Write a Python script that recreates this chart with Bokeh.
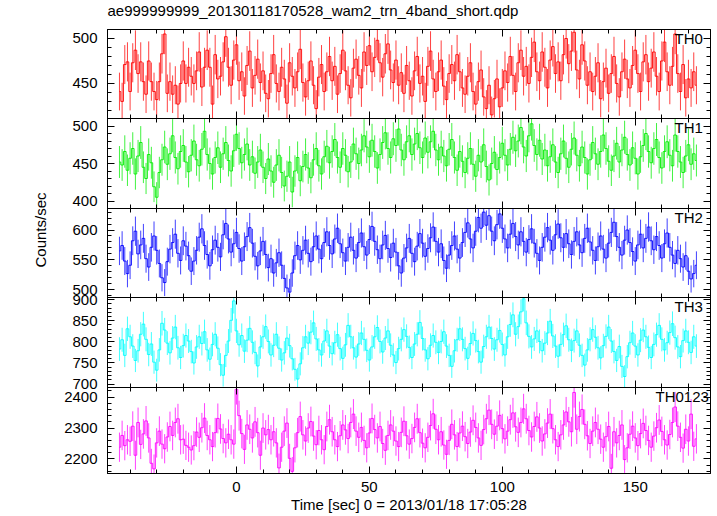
import numpy as np
from bokeh.plotting import figure
from bokeh.layouts import column
from bokeh.models import LinearAxis, SingleIntervalTicker, Range1d, Label, ColumnDataSource, Title
from bokeh.embed import file_html
from bokeh.resources import INLINE

TITLE = "ae999999999_20130118170528_wam2_trn_4band_short.qdp"
XLABEL = "Time [sec] 0 = 2013/01/18 17:05:28"
YLABEL = "Counts/sec"

# 1-s bins, time relative to 2013/01/18 17:05:28
t_first, t_last, bin_size = -44, 173, 1.0
x_limits = (-48.5, 178.3)

th0 = [441, 430, 471, 474, 441, 473, 487, 461, 474, 452,
       438, 475, 452, 441, 432, 452, 483, 505, 439, 452,
       438, 448, 427, 450, 475, 450, 468, 458, 450, 464,
       485, 446, 468, 487, 468, 427, 482, 455, 458, 474,
       502, 468, 448, 476, 493, 453, 463, 436, 470, 486,
       445, 459, 477, 451, 464, 439, 433, 461, 482, 450,
       441, 468, 455, 428, 473, 458, 445, 463, 488, 451,
       435, 453, 475, 448, 422, 457, 471, 441, 463, 480,
       453, 469, 438, 461, 487, 464, 448, 434, 467, 477,
       459, 445, 485, 470, 492, 463, 479, 498, 473, 457,
       483, 494, 465, 451, 476, 448, 462, 439, 470, 453,
       436, 464, 480, 450, 458, 430, 469, 486, 455, 441,
       463, 476, 447, 432, 461, 471, 453, 482, 463, 445,
       438, 458, 473, 441, 427, 452, 465, 435, 422, 448,
       415, 433, 455, 424, 445, 464, 451, 480, 459, 441,
       473, 487, 458, 469, 450, 479, 496, 463, 453, 485,
       468, 445, 476, 491, 461, 474, 453, 482, 500, 472,
       486, 507, 465, 455, 493, 475, 448, 463, 441, 458,
       473, 433, 452, 467, 439, 461, 480, 450, 435, 463,
       477, 455, 445, 470, 487, 461, 441, 474, 482, 452,
       467, 485, 458, 441, 475, 496, 463, 448, 469, 505,
       461, 441, 471, 434, 455, 445, 463, 448]

th1 = [452, 448, 466, 441, 457, 470, 436, 460, 478, 445,
       430, 462, 451, 419, 405, 438, 455, 472, 449, 463,
       487, 458, 443, 466, 474, 452, 439, 461, 480, 455,
       447, 469, 493, 462, 450, 436, 458, 471, 445, 463,
       478, 454, 440, 467, 489, 470, 451, 462, 476, 448,
       459, 437, 452, 468, 445, 430, 456, 440, 425, 448,
       461, 438, 420, 433, 452, 412, 440, 458, 427, 446,
       462, 444, 431, 455, 470, 447, 436, 459, 473, 451,
       466, 482, 458, 445, 470, 461, 439, 452, 476, 463,
       450, 468, 487, 472, 459, 481, 466, 444, 462, 478,
       491, 470, 458, 483, 474, 496, 468, 455, 479, 487,
       462, 476, 490, 471, 458, 484, 465, 479, 493, 468,
       455, 472, 460, 447, 469, 482, 458, 441, 466, 453,
       438, 457, 470, 449, 433, 461, 452, 475, 446, 428,
       450, 465, 442, 458, 477, 461, 448, 469, 485, 467,
       480, 498, 472, 460, 487, 503, 474, 462, 481, 456,
       468, 447, 459, 475, 452, 438, 463, 480, 457, 445,
       469, 484, 461, 447, 472, 458, 436, 455, 478, 463,
       449, 466, 488, 470, 453, 441, 460, 477, 452, 468,
       485, 462, 448, 471, 457, 436, 459, 474, 490, 466,
       451, 470, 482, 458, 444, 466, 479, 461, 447, 488,
       466, 452, 438, 460, 475, 449, 463, 454]

th2 = [565, 574, 548, 527, 541, 582, 598, 560, 575, 586,
       552, 538, 571, 590, 566, 544, 520, 512, 547, 568,
       579, 593, 561, 549, 582, 573, 557, 531, 548, 566,
       588, 602, 574, 559, 540, 567, 583, 571, 555, 592,
       611, 585, 563, 577, 596, 569, 548, 572, 589, 604,
       578, 556, 540, 565, 581, 559, 537, 552, 528, 545,
       562, 541, 519, 503, 496, 528, 557, 574, 550, 566,
       583, 561, 547, 572, 590, 568, 552, 579, 597, 574,
       560, 585, 603, 577, 562, 548, 571, 588, 566, 553,
       579, 595, 572, 558, 584, 606, 581, 567, 552, 575,
       591, 569, 554, 578, 563, 540, 528, 553, 570, 586,
       561, 547, 573, 594, 578, 556, 569, 587, 605, 581,
       563, 577, 549, 536, 558, 574, 590, 568, 553, 579,
       596, 612, 585, 570, 598, 621, 603, 630, 608, 624,
       598, 582, 609, 627, 603, 585, 570, 593, 611, 589,
       575, 597, 581, 563, 584, 602, 578, 561, 549, 571,
       588, 604, 583, 566, 592, 610, 587, 571, 594, 577,
       559, 581, 597, 575, 562, 586, 603, 580, 566, 549,
       572, 590, 568, 553, 578, 596, 613, 589, 571, 558,
       583, 600, 579, 564, 548, 575, 593, 570, 586, 605,
       582, 567, 589, 574, 553, 577, 595, 571, 558, 544,
       566, 552, 538, 557, 531, 518, 527, 541]

th3 = [783, 805, 768, 831, 812, 790, 756, 779, 818, 842,
       806, 770, 795, 752, 733, 781, 844, 828, 797, 774,
       809, 835, 786, 763, 791, 815, 802, 777, 750, 788,
       812, 796, 824, 781, 759, 794, 818, 785, 746, 721,
       768, 802, 851, 897, 826, 793, 815, 778, 804, 832,
       799, 775, 743, 788, 812, 836, 801, 769, 792, 818,
       785, 757, 774, 809, 791, 760, 735, 712, 748, 786,
       812, 797, 823, 845, 807, 781, 769, 802, 826, 790,
       772, 798, 817, 784, 761, 793, 839, 812, 786, 764,
       795, 821, 806, 780, 757, 788, 812, 834, 801, 776,
       809, 826, 792, 769, 751, 784, 806, 829, 813, 787,
       763, 795, 818, 846, 808, 781, 760, 792, 815, 799,
       775, 801, 824, 790, 768, 742, 779, 805, 831, 806,
       784, 761, 796, 820, 803, 777, 752, 789, 812, 835,
       808, 783, 805, 827, 794, 769, 812, 841, 864, 818,
       836, 871, 902, 845, 813, 788, 807, 826, 801, 779,
       797, 821, 849, 814, 790, 766, 794, 817, 838, 805,
       780, 803, 826, 792, 768, 745, 781, 806, 829, 811,
       786, 762, 791, 813, 835, 802, 777, 756, 789, 742,
       718, 765, 798, 821, 790, 769, 804, 828, 812, 787,
       763, 794, 817, 839, 806, 781, 798, 822, 843, 810,
       788, 765, 803, 826, 799, 775, 812, 790]

th0123 = [2238, 2276, 2243, 2262, 2257, 2306, 2212, 2318, 2247, 2281,
          2323, 2268, 2186, 2168, 2252, 2290, 2248, 2233, 2271, 2305,
          2276, 2318, 2330, 2262, 2264, 2244, 2238, 2229, 2243, 2287,
          2270, 2301, 2332, 2276, 2262, 2240, 2285, 2331, 2297, 2266,
          2252, 2280, 2262, 2248, 2425, 2340, 2282, 2231, 2310, 2296,
          2268, 2320, 2285, 2212, 2300, 2278, 2295, 2262, 2288, 2252,
          2171, 2238, 2290, 2316, 2202, 2160, 2236, 2285, 2337, 2278,
          2258, 2300, 2321, 2274, 2246, 2292, 2262, 2230, 2305, 2327,
          2288, 2262, 2240, 2275, 2310, 2294, 2266, 2318, 2345, 2290,
          2270, 2302, 2260, 2236, 2284, 2331, 2295, 2268, 2305, 2250,
          2228, 2276, 2310, 2290, 2258, 2240, 2286, 2322, 2275, 2248,
          2266, 2302, 2330, 2285, 2251, 2236, 2270, 2308, 2346, 2296,
          2262, 2288, 2245, 2215, 2260, 2312, 2278, 2240, 2284, 2306,
          2272, 2250, 2287, 2325, 2302, 2268, 2244, 2295, 2330, 2358,
          2312, 2280, 2306, 2341, 2298, 2265, 2290, 2327, 2349, 2304,
          2286, 2318, 2362, 2330, 2292, 2271, 2305, 2336, 2300, 2258,
          2281, 2316, 2345, 2298, 2262, 2240, 2278, 2310, 2352, 2320,
          2288, 2415, 2296, 2337, 2360, 2312, 2275, 2250, 2290, 2318,
          2296, 2264, 2238, 2272, 2305, 2170, 2288, 2252, 2276, 2310,
          2198, 2236, 2280, 2306, 2268, 2243, 2282, 2315, 2292, 2260,
          2238, 2274, 2301, 2326, 2289, 2262, 2245, 2279, 2318, 2368,
          2306, 2270, 2235, 2296, 2258, 2345, 2241, 2265]

band_names = ["TH0", "TH1", "TH2", "TH3", "TH0123"]
band_rates = [th0, th1, th2, th3, th0123]
band_colors = ["#ff0000", "#00ee00", "#0000ff", "#00ffff", "#ff00ff"]
y_limits = [(411, 510), (390, 510), (487, 636), (692, 905), (2153, 2431)]
y_major = [50, 50, 50, 50, 100]

time = np.arange(t_first, t_last + bin_size, bin_size)

FONT = "Liberation Sans"
FS = "15px"
FRAME_L, FRAME_W, FIG_W = 107, 603, 715
frame_h = [89, 90, 89, 90, 89]
label_dx = [-36, -36, -36, -36, -55]
PAD = 10          # overlapping border between stacked panels
TOP_B, TOP_SHIFT, BOT_B = 45, 16, 39   # first panel: frame top lands at TOP_B - TOP_SHIFT
YLAB_PANEL = 2
YLAB_PAD = 28     # extra canvas above the panel holding the y label

xr = Range1d(*x_limits)


def add_axis(p, side, ticker, labels, axis_label=None):
    ax = LinearAxis(ticker=ticker,
                    major_tick_in=7, major_tick_out=0,
                    minor_tick_in=4, minor_tick_out=0,
                    axis_line_color="black", major_tick_line_color="black",
                    minor_tick_line_color="black")
    if labels:
        ax.major_label_text_font = FONT
        ax.major_label_text_font_size = FS
        ax.major_label_text_color = "black"
        ax.major_label_standoff = 10 if side == "left" else 8
    else:
        ax.major_label_text_color = None
        ax.major_label_standoff = 0
    if axis_label:
        ax.axis_label = axis_label
        ax.axis_label_text_font = FONT
        ax.axis_label_text_font_size = FS
        ax.axis_label_text_font_style = "normal"
        ax.axis_label_text_color = "black"
        ax.axis_label_standoff = 1
    p.add_layout(ax, side)


figs = []
n = len(band_names)
for i in range(n):
    rate = np.array(band_rates[i], dtype=float)
    err = np.sqrt(rate * bin_size) / bin_size
    src = ColumnDataSource(dict(t=time, rate=rate, lo=rate - err, hi=rate + err))
    if i == 0:
        bt = TOP_B
        top_margin = -TOP_SHIFT
    else:
        bt = YLAB_PAD if i == YLAB_PANEL else PAD
        top_margin = -(PAD + bt)
    bb = BOT_B if i == n - 1 else PAD
    p = figure(width=FIG_W, height=frame_h[i] + bt + bb,
               x_range=xr, y_range=Range1d(*y_limits[i]),
               x_axis_type=None, y_axis_type=None,
               output_backend="svg", toolbar_location=None,
               min_border_left=FRAME_L, min_border_right=FIG_W - FRAME_L - FRAME_W,
               min_border_top=bt, min_border_bottom=bb,
               margin=(top_margin, 0, 0, 0))
    p.outline_line_color = "black"
    p.outline_line_width = 1
    p.background_fill_color = None
    p.border_fill_color = None

    xt = SingleIntervalTicker(interval=50, num_minor_ticks=5)
    yt = SingleIntervalTicker(interval=y_major[i], num_minor_ticks=5)
    add_axis(p, "below", xt, labels=(i == n - 1), axis_label=XLABEL if i == n - 1 else None)
    add_axis(p, "above", xt, labels=False)
    add_axis(p, "left", yt, labels=True)
    add_axis(p, "right", yt, labels=False)

    if i == YLAB_PANEL:
        p.add_layout(Title(text=YLABEL, align="left", offset=30, standoff=42,
                           text_font=FONT, text_font_size=FS, text_font_style="normal",
                           text_color="black"), "left")

    col = band_colors[i]
    p.segment(x0="t", y0="lo", x1="t", y1="hi", source=src,
              line_color=col, line_width=1, line_alpha=0.75)
    p.step(x="t", y="rate", source=src, mode="center",
           line_color=col, line_width=1, line_alpha=0.9)

    p.add_layout(Label(x=x_limits[1], y=y_limits[i][1], x_offset=label_dx[i], y_offset=0,
                       text=band_names[i], text_align="left", text_baseline="top",
                       text_font=FONT, text_font_size=FS, text_color="black"))

    if i == 0:
        p.title.text = TITLE
        p.title.align = "left"
        p.title.text_font = FONT
        p.title.text_font_size = FS
        p.title.text_font_style = "normal"
        p.title.text_color = "black"
        p.title.standoff = 21
    figs.append(p)

layout = column(*figs, spacing=0)

with open("out.html", "w") as f:
    f.write(file_html(layout, INLINE))
